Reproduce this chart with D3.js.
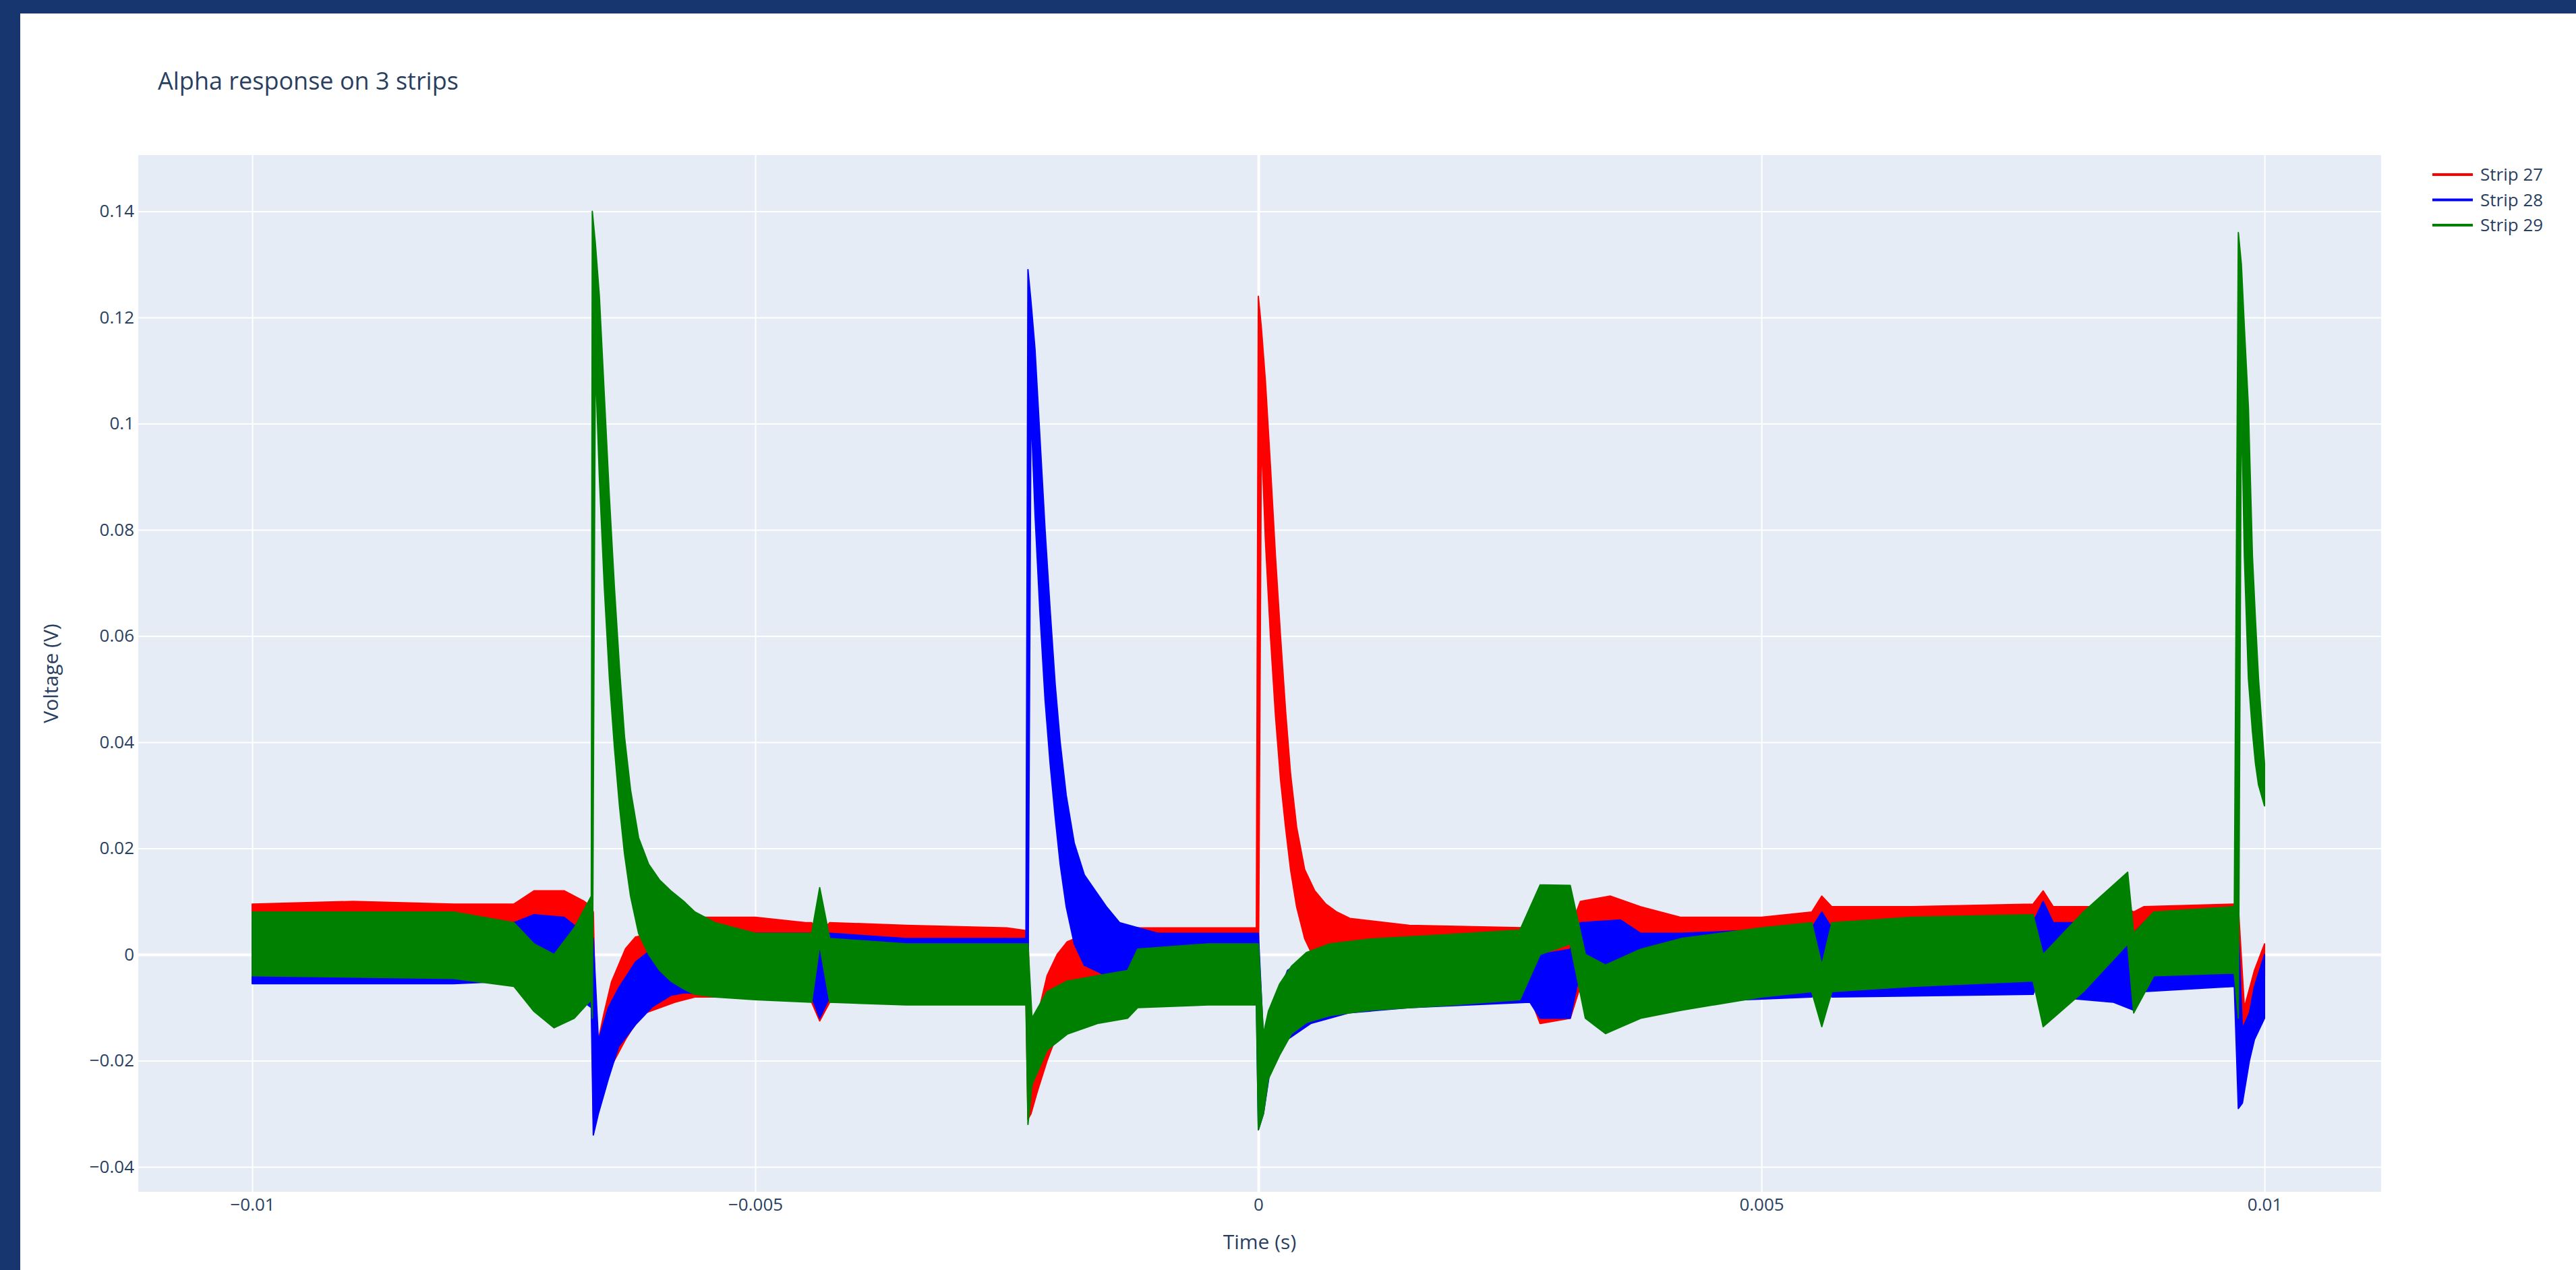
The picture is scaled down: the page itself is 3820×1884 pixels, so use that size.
<!DOCTYPE html>
<html>
<head>
<meta charset="utf-8">
<script src="https://cdn.jsdelivr.net/npm/d3@7"></script>
<style>
  html, body { margin: 0; padding: 0; background: #17356e; overflow: hidden; }
  text { font-family: "Open Sans", "DejaVu Sans", sans-serif; fill: #2a3f5f; }
</style>
</head>
<body>
<script>
// legend / colours
const stripNames = ["Strip 27", "Strip 28", "Strip 29"];
const stripColors = ["red", "blue", "green"];

const timeTicks = [-0.01, -0.005, 0, 0.005, 0.01];
const voltTicks = [-0.04, -0.02, 0, 0.02, 0.04, 0.06, 0.08, 0.1, 0.12, 0.14];

// each row: [time (s), lower edge of trace (V), upper edge of trace (V)]
const strip27 = [
  [-0.0100, -0.003, 0.0095], [-0.0090, -0.003, 0.0100], [-0.0080, -0.003, 0.0095],
  [-0.0074, -0.002, 0.0095], [-0.0072, 0.000, 0.0120], [-0.0069, 0.001, 0.0120],
  [-0.0067, -0.002, 0.0100], [-0.00663, -0.005, 0.0090], [-0.00661, -0.031, 0.0080],
  [-0.00658, -0.030, -0.0180], [-0.00651, -0.025, -0.0116], [-0.00643, -0.021, -0.0052],
  [-0.00629, -0.016, 0.0011], [-0.00619, -0.013, 0.0033], [-0.00609, -0.011, 0.0037],
  [-0.0058, -0.009, 0.0050], [-0.0056, -0.008, 0.0070], [-0.0050, -0.008, 0.0070],
  [-0.0045, -0.008, 0.0060], [-0.00444, -0.009, 0.0060], [-0.00436, -0.0125, 0.0040],
  [-0.00426, -0.009, 0.0060], [-0.0035, -0.008, 0.0055], [-0.0025, -0.008, 0.0050],
  [-0.00231, -0.008, 0.0045], [-0.00229, -0.031, 0.0045], [-0.00226, -0.030, -0.0200],
  [-0.0022, -0.026, -0.0120], [-0.0021, -0.020, -0.0040], [-0.0020, -0.015, 0.0000],
  [-0.0019, -0.012, 0.0024], [-0.0017, -0.010, 0.0040], [-0.0012, -0.009, 0.0050],
  [-0.0005, -0.008, 0.0050], [-0.00002, -0.008, 0.0050], [0.00000, -0.008, 0.1240],
  [0.00003, 0.098, 0.1180], [0.00007, 0.078, 0.1080], [0.00012, 0.060, 0.0920],
  [0.00017, 0.045, 0.0750], [0.00022, 0.033, 0.0600], [0.00027, 0.024, 0.0460],
  [0.00032, 0.016, 0.0340], [0.00038, 0.009, 0.0240], [0.00046, 0.003, 0.0160],
  [0.00056, -0.001, 0.0120], [0.00067, -0.003, 0.0095], [0.00078, -0.005, 0.0080],
  [0.00091, -0.006, 0.0068], [0.0015, -0.008, 0.0055], [0.0027, -0.008, 0.0050],
  [0.0028, -0.013, 0.0040], [0.0031, -0.012, 0.0050], [0.0032, -0.006, 0.0100],
  [0.0035, -0.004, 0.0110], [0.0038, -0.006, 0.0090], [0.0042, -0.008, 0.0070],
  [0.0050, -0.007, 0.0070], [0.0055, -0.006, 0.0080], [0.0056, -0.002, 0.0110],
  [0.0057, -0.005, 0.0090], [0.0065, -0.004, 0.0090], [0.0077, -0.003, 0.0095],
  [0.0078, 0.000, 0.0120], [0.0079, -0.004, 0.0090], [0.0086, -0.004, 0.0090],
  [0.0087, -0.010, 0.0080], [0.0088, -0.004, 0.0090], [0.0097, -0.003, 0.0095],
  [0.00974, -0.022, 0.0090], [0.0098, -0.021, -0.0100], [0.0099, -0.012, -0.0030],
  [0.0100, -0.004, 0.0020]
];

const strip28 = [
  [-0.0100, -0.0055, 0.0060], [-0.0080, -0.0055, 0.0060], [-0.0074, -0.0050, 0.0060],
  [-0.0072, -0.0040, 0.0075], [-0.0069, -0.0060, 0.0070], [-0.0067, -0.0090, 0.0040],
  [-0.00663, -0.0100, 0.0040], [-0.00661, -0.0340, 0.0030], [-0.00656, -0.0300, -0.0162],
  [-0.00646, -0.0234, -0.0100], [-0.00636, -0.0174, -0.0064], [-0.00619, -0.0132, -0.0014],
  [-0.00602, -0.0098, 0.0011], [-0.00584, -0.0077, 0.0030], [-0.00571, -0.0072, 0.0040],
  [-0.0050, -0.0080, 0.0040], [-0.00444, -0.0080, 0.0040], [-0.00436, -0.0120, 0.0030],
  [-0.00426, -0.0080, 0.0040], [-0.0035, -0.0085, 0.0030], [-0.00231, -0.0085, 0.0030],
  [-0.00229, -0.0090, 0.1290], [-0.00226, 0.1030, 0.1230], [-0.00222, 0.0830, 0.1140],
  [-0.00217, 0.0640, 0.0970], [-0.00212, 0.0480, 0.0800], [-0.00207, 0.0360, 0.0650],
  [-0.00202, 0.0260, 0.0510], [-0.00197, 0.0170, 0.0400], [-0.00191, 0.0090, 0.0300],
  [-0.00183, 0.0020, 0.0210], [-0.00173, -0.0020, 0.0150], [-0.00162, -0.0030, 0.0120],
  [-0.00151, -0.0040, 0.0090], [-0.00138, -0.0060, 0.0060], [-0.0010, -0.0080, 0.0040],
  [-0.00002, -0.0080, 0.0040], [0.00000, -0.0330, 0.0040],
  [0.00005, -0.0300, -0.0160], [0.00013, -0.0200, -0.0110], [0.00029, -0.0160, -0.0030],
  [0.00052, -0.0130, 0.0000], [0.0009, -0.0110, 0.0020], [0.0015, -0.0100, 0.0030],
  [0.0027, -0.0090, 0.0030], [0.0028, -0.0120, 0.0000], [0.0031, -0.0120, 0.0010],
  [0.0032, -0.0030, 0.0060], [0.0036, -0.0020, 0.0065], [0.0038, -0.0060, 0.0040],
  [0.0042, -0.0090, 0.0040], [0.0055, -0.0080, 0.0050], [0.0056, -0.0040, 0.0080],
  [0.0057, -0.0080, 0.0050], [0.0077, -0.0075, 0.0060], [0.0078, -0.0030, 0.0100],
  [0.0079, -0.0080, 0.0060], [0.0085, -0.0090, 0.0060], [0.0087, -0.0105, 0.0040],
  [0.0088, -0.0070, 0.0060], [0.0097, -0.0060, 0.0060], [0.00974, -0.0290, 0.0050],
  [0.00978, -0.0280, -0.0140], [0.00985, -0.0200, -0.0110], [0.0099, -0.0160, -0.0060],
  [0.0100, -0.0120, 0.0000]
];

const strip29 = [
  [-0.0100, -0.0040, 0.0080], [-0.0080, -0.0045, 0.0080], [-0.0074, -0.0060, 0.0060],
  [-0.0072, -0.0107, 0.0020], [-0.0070, -0.0138, 0.0000], [-0.0068, -0.0120, 0.0050],
  [-0.00663, -0.0085, 0.0110], [-0.00662, -0.0120, 0.1400], [-0.00659, 0.1120, 0.1340],
  [-0.00655, 0.0900, 0.1240], [-0.00650, 0.0690, 0.1050], [-0.00645, 0.0520, 0.0860],
  [-0.00640, 0.0390, 0.0690], [-0.00635, 0.0280, 0.0540], [-0.00630, 0.0190, 0.0410],
  [-0.00624, 0.0110, 0.0310], [-0.00616, 0.0040, 0.0220], [-0.00606, 0.0000, 0.0170],
  [-0.00595, -0.0030, 0.0140], [-0.00584, -0.0050, 0.0120], [-0.00571, -0.0065, 0.0100],
  [-0.0056, -0.0075, 0.0080], [-0.0054, -0.0080, 0.0060],
  [-0.0050, -0.0085, 0.0040], [-0.00444, -0.0090, 0.0040], [-0.00436, 0.0018, 0.0126],
  [-0.00426, -0.0090, 0.0030], [-0.0035, -0.0095, 0.0020], [-0.00231, -0.0095, 0.0020],
  [-0.00229, -0.0320, 0.0020], [-0.00225, -0.0245, -0.0120], [-0.0021, -0.0180, -0.0070],
  [-0.0019, -0.0150, -0.0050], [-0.0016, -0.0130, -0.0040], [-0.0013, -0.0120, -0.0030],
  [-0.0012, -0.0100, 0.0010], [-0.0005, -0.0095, 0.0020], [-0.00002, -0.0095, 0.0020],
  [0.00000, -0.0330, 0.0020], [0.00005, -0.0300, -0.0150], [0.00010, -0.0234, -0.0107],
  [0.00021, -0.0190, -0.0056], [0.00033, -0.0149, -0.0022], [0.00048, -0.0128, 0.0004],
  [0.00071, -0.0115, 0.0020], [0.0011, -0.0105, 0.0029], [0.00186, -0.0096, 0.0037],
  [0.0026, -0.0085, 0.0046], [0.0028, 0.0000, 0.0131], [0.0031, 0.0020, 0.0130],
  [0.00325, -0.0120, 0.0000], [0.00345, -0.0149, -0.0020], [0.0038, -0.0120, 0.0010],
  [0.0042, -0.0105, 0.0030], [0.0050, -0.0080, 0.0050], [0.0055, -0.0070, 0.0060],
  [0.0056, -0.0136, -0.0020], [0.0057, -0.0070, 0.0060], [0.0065, -0.0060, 0.0070],
  [0.0077, -0.0050, 0.0075], [0.0078, -0.0136, 0.0000], [0.0082, -0.0070, 0.0080],
  [0.00864, 0.0020, 0.0155], [0.0087, -0.0110, 0.0040], [0.0089, -0.0040, 0.0080],
  [0.0097, -0.0035, 0.0090], [0.00974, -0.0120, 0.1360], [0.00977, 0.1050, 0.1300],
  [0.0098, 0.0750, 0.1180], [0.00984, 0.0520, 0.1030], [0.00988, 0.0420, 0.0750],
  [0.00991, 0.0360, 0.0630], [0.00994, 0.0320, 0.0520], [0.0100, 0.0280, 0.0360]
];

const strips = [strip27, strip28, strip29];

const W = 3820, H = 1884;
const plot = {left: 205, right: 3531, top: 230, bottom: 1768};

const x = d3.scaleLinear([-0.011133, 0.011159], [plot.left, plot.right]);
const y = d3.scaleLinear([-0.0447, 0.1506], [plot.bottom, plot.top]);
const fmt = d3.format("");

const svg = d3.select("body").append("svg")
    .attr("width", W)
    .attr("height", H);

svg.append("rect")
    .attr("x", 30).attr("y", 20)
    .attr("width", W - 30).attr("height", H - 20)
    .attr("fill", "white");

svg.append("rect")
    .attr("x", plot.left).attr("y", plot.top)
    .attr("width", plot.right - plot.left).attr("height", plot.bottom - plot.top)
    .attr("fill", "#e5ecf6");

// grid
svg.append("g")
    .attr("transform", `translate(0,${plot.bottom})`)
    .call(d3.axisBottom(x).tickValues(timeTicks).tickSize(-(plot.bottom - plot.top)).tickFormat(""))
    .call(g => g.select(".domain").remove())
    .call(g => g.selectAll("line").attr("stroke", "white").attr("stroke-width", d => d === 0 ? 4 : 2));

svg.append("g")
    .attr("transform", `translate(${plot.left},0)`)
    .call(d3.axisLeft(y).tickValues(voltTicks).tickSize(-(plot.right - plot.left)).tickFormat(""))
    .call(g => g.select(".domain").remove())
    .call(g => g.selectAll("line").attr("stroke", "white").attr("stroke-width", d => d === 0 ? 4 : 2));

// tick labels
svg.append("g")
    .attr("transform", `translate(0,${plot.bottom})`)
    .call(d3.axisBottom(x).tickValues(timeTicks).tickSize(0).tickPadding(10).tickFormat(fmt))
    .call(g => g.select(".domain").remove())
    .call(g => g.selectAll("text").attr("font-size", 26).attr("font-family", null));

svg.append("g")
    .attr("transform", `translate(${plot.left},0)`)
    .call(d3.axisLeft(y).tickValues(voltTicks).tickSize(0).tickPadding(6).tickFormat(fmt))
    .call(g => g.select(".domain").remove())
    .call(g => g.selectAll("text").attr("font-size", 26).attr("font-family", null));

// traces
svg.append("clipPath").attr("id", "clip")
  .append("rect")
    .attr("x", plot.left).attr("y", plot.top)
    .attr("width", plot.right - plot.left).attr("height", plot.bottom - plot.top);

const area = d3.area()
    .x(d => x(d[0]))
    .y0(d => y(d[1]))
    .y1(d => y(d[2]));

svg.append("g")
    .attr("clip-path", "url(#clip)")
  .selectAll("path")
  .data(strips)
  .join("path")
    .attr("d", area)
    .attr("fill", (d, i) => stripColors[i])
    .attr("stroke", (d, i) => stripColors[i])
    .attr("stroke-width", 2)
    .attr("stroke-linejoin", "round");

// titles
svg.append("text")
    .attr("x", 234).attr("y", 133)
    .attr("font-size", 36)
    .text("Alpha response on 3 strips");

svg.append("text")
    .attr("x", (plot.left + plot.right) / 2).attr("y", 1853)
    .attr("text-anchor", "middle")
    .attr("font-size", 30)
    .text("Time (s)");

svg.append("text")
    .attr("transform", `translate(75,${(plot.top + plot.bottom) / 2}) rotate(-90)`)
    .attr("text-anchor", "middle")
    .attr("dy", "0.35em")
    .attr("font-size", 30)
    .text("Voltage (V)");

// legend
const legend = svg.append("g")
  .selectAll("g")
  .data(stripNames)
  .join("g")
    .attr("transform", (d, i) => `translate(3607,${259 + i * 37.5})`);

legend.append("line")
    .attr("x1", 0).attr("x2", 60)
    .attr("stroke", (d, i) => stripColors[i])
    .attr("stroke-width", 4);

legend.append("text")
    .attr("x", 71)
    .attr("dy", "0.35em")
    .attr("font-size", 26)
    .text(d => d);
</script>
</body>
</html>
